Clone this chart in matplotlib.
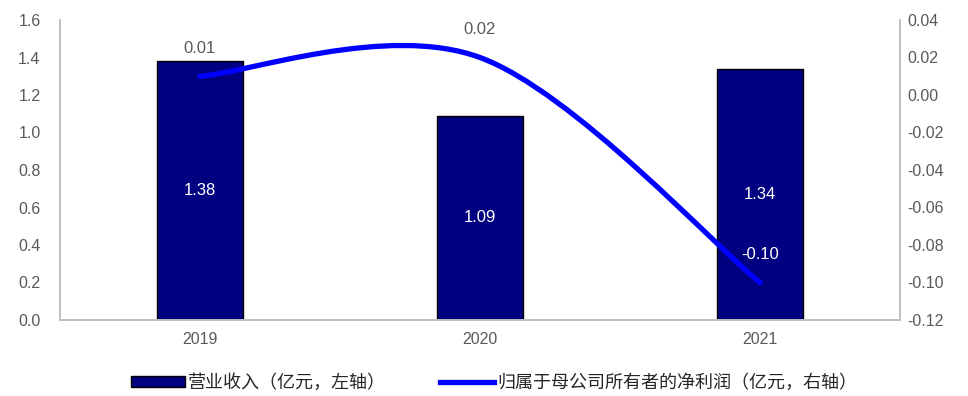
import matplotlib.pyplot as plt
from matplotlib.path import Path
from matplotlib.patches import PathPatch, Patch
from matplotlib.lines import Line2D

plt.rcParams['font.family'] = ['Liberation Sans', 'Noto Sans CJK SC', 'DejaVu Sans']

years = ["2019", "2020", "2021"]
revenue = [1.38, 1.09, 1.34]
net_profit = [0.01, 0.02, -0.10]

bar_color = "#000080"
line_color = "#0000FF"
text_color = "#595959"
axis_color = "#BFBFBF"

fig = plt.figure(figsize=(9.68, 3.96), dpi=100)
ax = fig.add_axes([60 / 968, 1 - 320 / 396, 840 / 968, 300 / 396])
ax2 = ax.twinx()

x = list(range(len(years)))

# ----- bars (left axis) -----
bars = ax.bar(x, revenue, width=0.31, color=bar_color, edgecolor="black", linewidth=1, zorder=2)
for xi, v in zip(x, revenue):
    ax.text(xi, v / 2, f"{v:.2f}", color="white", ha="center", va="center", fontsize=12, zorder=3)

ax.set_xlim(-0.5, 2.5)
ax.set_ylim(0, 1.6)
ax.set_yticks([0, 0.2, 0.4, 0.6, 0.8, 1.0, 1.2, 1.4, 1.6])
ax.set_yticklabels([f"{t:.1f}" for t in ax.get_yticks()])
ax.set_xticks(x)
ax.set_xticklabels(years)

# ----- smoothed line (right axis), excel-like bezier -----
pts = list(zip(x, net_profit))
verts = [pts[0]]
codes = [Path.MOVETO]
n = len(pts)
for i in range(n - 1):
    p0 = pts[i - 1] if i > 0 else pts[i]
    p1 = pts[i]
    p2 = pts[i + 1]
    p3 = pts[i + 2] if i + 2 < n else pts[i + 1]
    c1 = (p1[0] + (p2[0] - p0[0]) / 6, p1[1] + (p2[1] - p0[1]) / 6)
    c2 = (p2[0] - (p3[0] - p1[0]) / 6, p2[1] - (p3[1] - p1[1]) / 6)
    verts += [c1, c2, p2]
    codes += [Path.CURVE4] * 3
curve = PathPatch(Path(verts, codes), facecolor="none", edgecolor=line_color,
                  linewidth=3.8, capstyle="round", zorder=4)
ax2.add_patch(curve)
ax2.set_ylim(-0.12, 0.04)
ax2.set_yticks([-0.12, -0.10, -0.08, -0.06, -0.04, -0.02, 0.0, 0.02, 0.04])
ax2.set_yticklabels([f"{t:.2f}" for t in ax2.get_yticks()])

for xi, v in zip(x, net_profit):
    c = "white" if v < 0 else text_color
    ax2.annotate(f"{v:.2f}", (xi, v), xytext=(0, 20), textcoords="offset points",
                 ha="center", va="center", color=c, fontsize=12, zorder=5)

# ----- axes styling -----
for a in (ax, ax2):
    a.spines["top"].set_visible(False)
    for s in ("left", "right", "bottom"):
        a.spines[s].set_color(axis_color)
        a.spines[s].set_linewidth(1.2)
    a.tick_params(length=0, labelsize=11.5, labelcolor=text_color)
ax.tick_params(axis="y", pad=14)
ax.tick_params(axis="x", pad=9)
ax2.tick_params(axis="y", pad=5)

# ----- legend -----
handles = [
    Patch(facecolor=bar_color, edgecolor="black", linewidth=1),
    Line2D([0], [0], color=line_color, linewidth=3.8),
]
labels = ["营业收入（亿元，左轴）", "归属于母公司所有者的净利润（亿元，右轴）"]
fig.legend(handles, labels, loc="center", bbox_to_anchor=(494 / 968, 1 - 383 / 396),
           ncol=2, frameon=False, handlelength=3.0, handleheight=0.6,
           handletextpad=0.15, columnspacing=3.0, labelcolor="#262626",
           prop={"family": ["Noto Sans CJK SC", "DejaVu Sans"], "size": 13})

fig.savefig("out.png", dpi=100)
